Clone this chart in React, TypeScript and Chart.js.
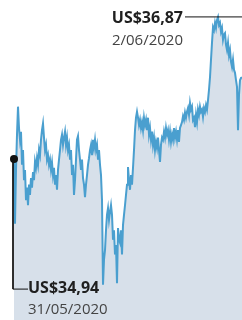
import React, { useEffect, useRef } from "react";
import { Chart, registerables } from "chart.js";

Chart.register(...registerables);

// Price samples (US$), one per sample step, from 31/05/2020 to 2/06/2020
const prices: number[] = [
  34.94, 34.06, 34.79, 35.27, 35.65, 35.36, 35.20, 35.31, 34.86, 35.06,
  34.65, 34.79, 34.38, 34.55, 34.31, 34.59, 34.45, 34.68, 34.55, 34.76,
  34.65, 34.90, 34.82, 34.95, 34.86, 35.06, 34.99, 35.20, 35.33, 35.42,
  35.23, 35.06, 35.13, 34.93, 34.99, 34.86, 34.93, 34.79, 34.89, 34.72,
  34.82, 34.59, 34.72, 34.52, 34.79, 34.93, 35.06, 35.20, 35.27, 35.13,
  35.23, 35.31, 35.13, 35.23, 35.06, 35.13, 34.93, 35.06, 34.72, 34.86,
  34.45, 34.65, 34.93, 35.20, 35.25, 35.06, 34.93, 34.79, 34.93, 34.68,
  34.59, 34.42, 34.59, 34.72, 34.86, 34.95, 35.06, 35.13, 34.99, 35.20,
  35.09, 35.20, 35.06, 35.13, 34.93, 35.06, 34.86, 34.72, 34.38, 33.23,
  33.57, 33.70, 33.97, 34.18, 34.27, 34.11, 34.22, 34.31, 34.18, 33.84,
  33.97, 33.64, 33.77, 33.25, 34.00, 33.84, 33.80, 33.97, 33.64, 34.04,
  34.18, 34.31, 34.45, 34.59, 34.83, 34.65, 34.52, 34.72, 34.59, 34.82,
  35.06, 35.33, 35.50, 35.58, 35.50, 35.40, 35.47, 35.36, 35.44, 35.33,
  35.50, 35.40, 35.47, 35.33, 35.50, 35.27, 35.36, 35.20, 35.31, 35.13,
  35.23, 35.06, 35.17, 35.09, 35.23, 35.06, 34.90, 35.13, 35.23, 35.20,
  35.31, 35.23, 35.36, 35.27, 35.33, 35.20, 35.31, 35.17, 35.27, 35.20,
  35.36, 35.23, 35.31, 35.20, 35.33, 35.17, 35.36, 35.40, 35.44, 35.52,
  35.47, 35.57, 35.50, 35.58, 35.63, 35.54, 35.70, 35.61, 35.65, 35.47,
  35.50, 35.37, 35.54, 35.44, 35.61, 35.54, 35.65, 35.58, 35.61, 35.51,
  35.63, 35.58, 35.67, 35.61, 35.74, 35.88, 36.05, 36.29, 36.52, 36.73,
  36.69, 36.79, 36.72, 36.83, 36.87, 36.76, 36.79, 36.67, 36.72, 36.56,
  36.63, 36.65, 36.49, 36.42, 36.52, 36.35, 36.42, 36.26, 36.19, 36.29,
  36.15, 36.11, 36.01, 35.92, 35.33, 35.81, 36.01, 36.04, 36.05,
];

const startLabel = "US$34,94";
const startDate = "31/05/2020";
const maxLabel = "US$36,87";
const maxDate = "2/06/2020";
const startValue = 34.94;
const maxValue = 36.87;
const yMin = 32.75;
const yMax = 37.1;
const leaderBottomValue = 33.17;

export default function App() {
  const ref = useRef<HTMLCanvasElement | null>(null);

  useEffect(() => {
    document.body.style.margin = "0";
    if (!ref.current) return;
    const n = prices.length;
    const maxIdx = prices.indexOf(Math.max(...prices));
    const lineData = prices.map((v, i) => ({ x: i, y: v }));
    const chart = new Chart(ref.current, {
      type: "line",
      data: {
        datasets: [
          {
            data: lineData,
            borderColor: "#4a9fcf",
            borderWidth: 2,
            backgroundColor: "#d7e0ea",
            fill: "start",
            pointRadius: 0,
            tension: 0,
            order: 2,
          },
          {
            data: [
              { x: -1, y: startValue },
              { x: -1, y: leaderBottomValue },
              { x: 14, y: leaderBottomValue },
            ],
            borderColor: "#111",
            borderWidth: 1,
            pointRadius: 0,
            fill: false,
            clip: false as any,
            order: 1,
          },
          {
            data: [
              { x: maxIdx - 33, y: maxValue },
              { x: n - 1, y: maxValue },
            ],
            borderColor: "#111",
            borderWidth: 1,
            pointRadius: 0,
            fill: false,
            clip: false as any,
            order: 1,
          },
          {
            data: [{ x: 0, y: startValue }],
            borderColor: "#111",
            backgroundColor: "#111",
            pointRadius: 4,
            pointBorderWidth: 0,
            showLine: false,
            fill: false,
            clip: false as any,
            order: 0,
          },
        ],
      },
      options: {
        animation: false,
        responsive: false,
        maintainAspectRatio: false,
        layout: { autoPadding: false, padding: { left: 13, right: 0, top: 0, bottom: 0 } },
        plugins: { legend: { display: false }, tooltip: { enabled: false } },
        scales: {
          x: { type: "linear", min: -1, max: n - 1, display: false },
          y: { type: "linear", min: yMin, max: yMax, display: false },
        },
      },
    });
    return () => chart.destroy();
  }, []);

  const bold: React.CSSProperties = {
    position: "absolute",
    fontFamily: "'Open Sans', sans-serif",
    fontWeight: 700,
    fontSize: 16,
    lineHeight: "16px",
    color: "#1f1f1f",
    whiteSpace: "nowrap",
  };
  const reg: React.CSSProperties = {
    position: "absolute",
    fontFamily: "'Open Sans', sans-serif",
    fontWeight: 400,
    fontSize: 15,
    lineHeight: "15px",
    color: "#444",
    whiteSpace: "nowrap",
  };

  return (
    <div style={{ position: "relative", width: 242, height: 320, overflow: "hidden" }}>
      <canvas ref={ref} width={242} height={320} style={{ display: "block" }} />
      <div style={{ ...bold, right: 242 - 183, top: 9 }}>{maxLabel}</div>
      <div style={{ ...reg, right: 242 - 183, top: 32 }}>{maxDate}</div>
      <div style={{ ...bold, left: 28, top: 279 }}>{startLabel}</div>
      <div style={{ ...reg, left: 28, top: 301 }}>{startDate}</div>
    </div>
  );
}
